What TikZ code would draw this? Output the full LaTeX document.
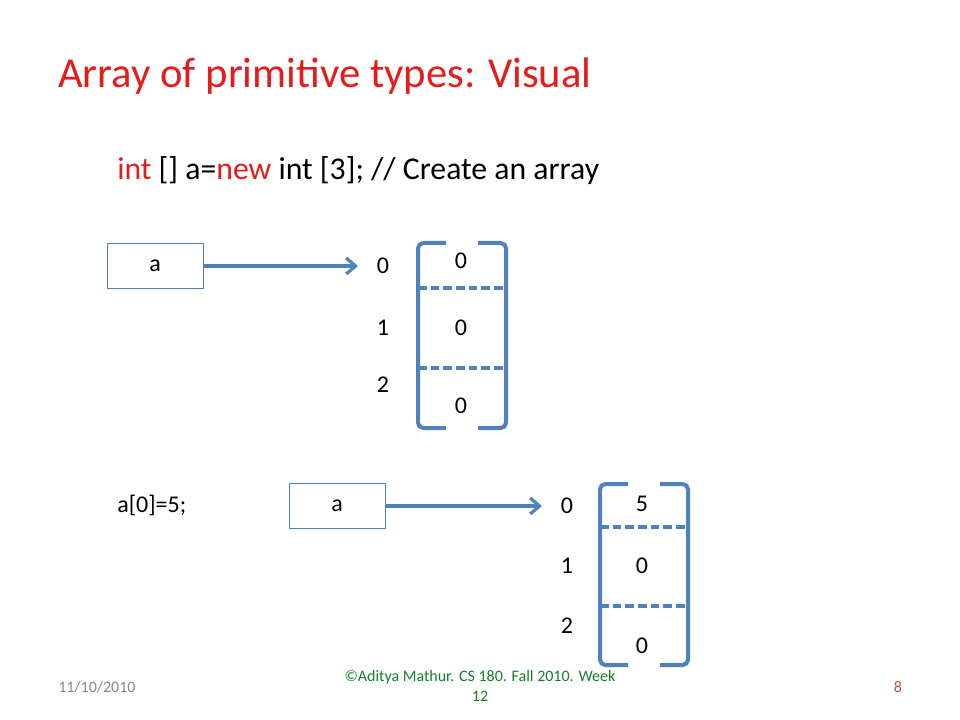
\documentclass[tikz,border=0pt]{standalone}
\usepackage{fontspec}
\setmainfont{Carlito}
\usetikzlibrary{arrows.meta}
\definecolor{slidered}{RGB}{228,28,28}
\definecolor{linkblue}{RGB}{79,129,189}
\definecolor{foottxt}{RGB}{137,137,137}
\definecolor{footgreen}{RGB}{20,128,40}
\definecolor{pagered}{RGB}{192,80,77}
\begin{document}
\begin{tikzpicture}[x=0.75pt,y=-0.75pt,
		refbox/.style={draw=linkblue,line width=0.7pt,minimum width=72pt,minimum height=34pt,font=\fontsize{18}{21}\selectfont},
		lbl/.style={inner sep=0pt,font=\fontsize{18}{21}\selectfont},
		ptr/.style={draw=linkblue,line width=2.6pt,-{Straight Barb[length=7pt,width=12pt,line width=2.4pt]}},
		bracket/.style={draw=linkblue,line width=3pt,rounded corners=4pt},
		cellsep/.style={draw=linkblue,line width=2.6pt,dash pattern=on 6.5pt off 3pt}]
	\useasboundingbox (0,0) rectangle (960,720);
	% title and code line
	\node (title) [anchor=base west,inner sep=0pt,text=slidered,font=\fontsize{32}{38}\selectfont] at (58,88) {Array of primitive types: Visual};
	\node (code) [anchor=base west,inner sep=0pt,font=\fontsize{23.8}{29}\selectfont] at (117,180) {\textcolor{slidered}{int} [] a=\textcolor{slidered}{new} int [3]; // Create an array};
	% first array
	\node (boxA) [refbox] at (155,266) {a};
	\node (idxA0) [lbl] at (383,266) {0};
	\node (idxA1) [lbl] at (383,328) {1};
	\node (idxA2) [lbl] at (383,385) {2};
	\draw [ptr,shorten >=14pt] (boxA.east) -- (idxA0.west);
	\draw [bracket] (446,243) -- (418,243) -- (418,428) -- (446,428);
	\draw [bracket] (478,243) -- (506,243) -- (506,428) -- (478,428);
	\draw [cellsep] (418,288) -- (506,288);
	\draw [cellsep] (418,368) -- (506,368);
	\node (valA0) [lbl] at (461,261) {0};
	\node (valA1) [lbl] at (461,328) {0};
	\node (valA2) [lbl] at (461,406) {0};
	% second array
	\node (assign) [lbl,anchor=west] at (117,505) {a[0]=5;};
	\node (boxB) [refbox] at (337,506) {a};
	\node (idxB0) [lbl] at (567,506) {0};
	\node (idxB1) [lbl] at (567,566) {1};
	\node (idxB2) [lbl] at (567,626) {2};
	\draw [ptr,shorten >=14pt] (boxB.east) -- (idxB0.west);
	\draw [bracket] (628,484) -- (600,484) -- (600,665) -- (628,665);
	\draw [bracket] (660,484) -- (688,484) -- (688,665) -- (660,665);
	\draw [cellsep] (600,527) -- (688,527);
	\draw [cellsep] (600,606) -- (688,606);
	\node (valB0) [lbl] at (642,504) {5};
	\node (valB1) [lbl] at (642,566) {0};
	\node (valB2) [lbl] at (642,646) {0};
	% footer
	\node (date) [anchor=west,inner sep=0pt,text=foottxt,font=\fontsize{12}{14}\selectfont] at (58,687) {11/10/2010};
	\node (copy) [align=center,inner sep=0pt,text=footgreen,font=\fontsize{12}{14.4}\selectfont] at (480,686) {©Aditya Mathur. CS 180. Fall 2010. Week\\12};
	\node (page) [inner sep=0pt,text=pagered,font=\fontsize{12}{14}\selectfont] at (898,687) {8};
\end{tikzpicture}
\end{document}
